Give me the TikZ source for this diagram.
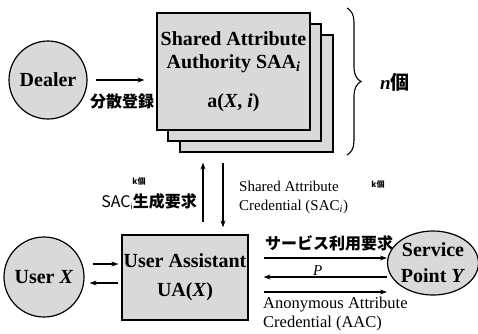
\documentclass[tikz,border=0pt]{standalone}
\usepackage{fontspec}
\setmainfont{Liberation Serif}
\newfontfamily\jp{Noto Sans CJK JP}
\usetikzlibrary{arrows.meta,decorations.pathreplacing,shapes.geometric}
\begin{document}
\begin{tikzpicture}[x=1pt,y=-1pt,
 halftone/.style={fill=gray!30, draw=black, line width=1.2pt},
 big/.style={font=\fontsize{20}{23}\selectfont\bfseries, align=center, inner sep=0pt},
 lab/.style={font=\fontsize{15}{19}\selectfont, align=left, inner sep=0pt},
 jlab/.style={font=\jp\bfseries\fontsize{16}{18}\selectfont, inner sep=0pt},
 tiny/.style={font=\jp\bfseries\fontsize{8}{9}\selectfont, inner sep=0pt},
 conn/.style={-{Stealth[length=7pt,width=5pt]}, line width=1.3pt}]
\useasboundingbox (0,0) rectangle (478,333);
% Dealer
\node[halftone, circle, minimum size=78pt, big] (dealer) at (48,80) {Dealer};
% SAA stack
\node[halftone, minimum width=153pt, minimum height=117pt] (saa3) at (256.5,93.5) {};
\node[halftone, minimum width=153pt, minimum height=117pt] (saa2) at (244.5,82.5) {};
\node[halftone, minimum width=153pt, minimum height=117pt, big] (saa) at (233.5,71.5)
  {Shared Attribute\\Authority SAA\textsubscript{\textit{i}}\\[16pt]a(\textit{X}, \textit{i})};
\draw[conn, shorten <=8pt, shorten >=12pt] (dealer.east |- 0,80) -- (saa.west |- 0,80)
  node[midway, below=13pt, jlab] (reg) {分散登録};
% brace
\draw[line width=1.1pt, decorate, decoration={brace, amplitude=14pt}] (347,8) -- (347,155);
\node[font=\fontsize{19}{21}\selectfont, anchor=west, inner sep=0pt] (ncount) at (380,82) {\textbf{\textit{n}}{\jp\bfseries 個}};
% User Assistant
\node[halftone, minimum width=126pt, minimum height=85pt, big] (ua) at (185,277.5) {User Assistant\\[6pt]UA(\textit{X})};
\node[halftone, circle, minimum size=80pt, big] (user) at (44,277) {User \textit{X}};
\node[halftone, ellipse, minimum width=90pt, minimum height=64pt, big, inner sep=0pt] (sp) at (433,263) {Service\\[3pt]Point \textit{Y}};
% vertical arrows
\coordinate (ux) at (203,0);
\coordinate (dx) at (223,0);
\draw[conn, shorten <=12pt, shorten >=10pt] (ua.north -| ux) -- (saa3.south -| ux);
\draw[conn, shorten <=10pt, shorten >=7pt] (saa3.south -| dx) -- (ua.north -| dx);
\node[jlab, anchor=east] (sacreq) at (197,202) {{\mdseries SAC}\raisebox{-2pt}{\fontsize{8}{9}\selectfont\mdseries\textit{i}}生成要求};
\node[tiny] (k1) at (139,181) {\textit{k}個};
\node[lab, anchor=west] (saclab) at (239,197) {Shared Attribute\\Credential (SAC\textsubscript{\textit{i}})};
\node[tiny] (k2) at (378,184) {\textit{k}個};
% user <-> ua
\draw[conn, shorten <=8pt, shorten >=3pt] ([yshift=13pt]user.east) -- ([yshift=13.5pt]ua.west);
\draw[conn, shorten <=3pt, shorten >=5pt] ([yshift=-5.5pt]ua.west) -- ([yshift=-6pt]user.east);
% ua <-> sp
\draw[conn, shorten <=15pt] (ua.east |- 0,258) -- (sp.west |- 0,258);
\node[jlab, anchor=south west] (svc) at (265,251) {サービス利用要求};
\draw[conn, shorten >=15pt] (sp.west |- 0,277) -- (ua.east |- 0,277)
  node[midway, above=1pt, font=\fontsize{15}{16}\selectfont\itshape, inner sep=0pt] (p) {P};
\draw[conn, shorten <=15pt] (ua.east |- 0,292) -- (sp.west |- 0,292);
\node[lab, anchor=north west, font=\fontsize{16.5}{19}\selectfont] (aac) at (263,297) {Anonymous Attribute\\Credential (AAC)};
\end{tikzpicture}
\end{document}
